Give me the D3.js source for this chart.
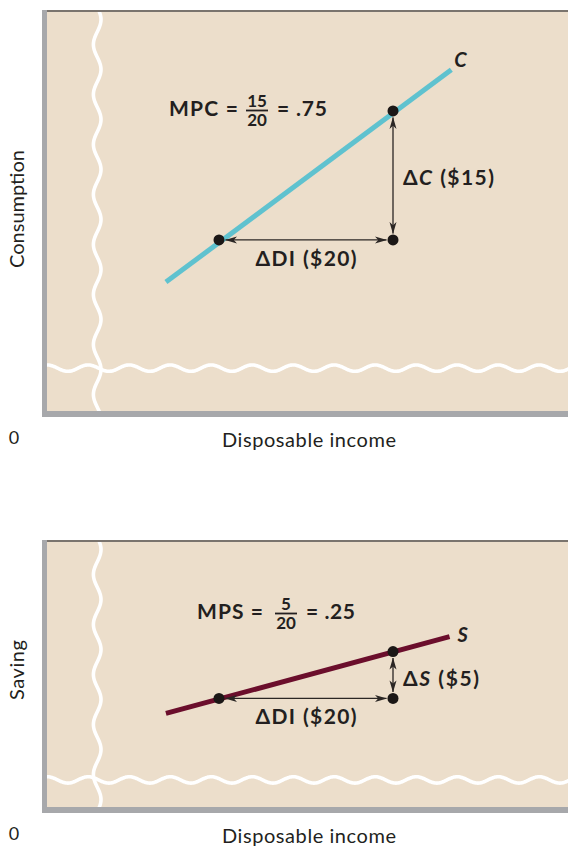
<!DOCTYPE html>
<html><head><meta charset="utf-8">
<script src="https://cdn.jsdelivr.net/npm/d3@7"></script>
<style>
html,body{margin:0;padding:0;background:#fff;}
svg{display:block;}
text{font-family:Lato,"Open Sans",sans-serif;fill:#231f20;}
</style></head>
<body>
<script>
// ---- data ----
const zeroLabel = "0";
const xTitle = "Disposable income";
const breakDI = 6;            // position of the vertical axis-break squiggle (DI units)
// Consumption panel
const cLineDI = [13.9, 46.7];
const cLineC  = [15.1, 39.8];
const cPointsDI = [20, 40];
const cPointsC  = [20, 35];
const breakC = 5.1;
// Saving panel
const sLineDI = [13.9, 46.5];
const sLineS  = [10.1, 18.3];
const sPointsDI = [20, 40];
const sPointsS  = [11.7, 16.7];
const breakS = 3.0;

const W = 568, H = 849;
const svg = d3.select("body").append("svg").attr("width", W).attr("height", H);

const defs = svg.append("defs");
defs.append("marker").attr("id","arr").attr("viewBox","0 0 12 8")
  .attr("refX",11.5).attr("refY",4).attr("markerWidth",12).attr("markerHeight",8)
  .attr("markerUnits","userSpaceOnUse").attr("orient","auto-start-reverse")
  .append("path").attr("d","M0,0.5 L12,4 L0,7.5 L3.2,4 Z").attr("fill","#2b2624");

const x = d3.scaleLinear().domain([0, 60]).range([45, 567]);

function panel(cfg){
  const g = svg.append("g");
  const y = d3.scaleLinear().domain([0, cfg.yMax]).range([cfg.bottom, cfg.top]);
  const id = "clip" + cfg.top;
  defs.append("clipPath").attr("id", id).append("rect")
    .attr("x", 47).attr("y", cfg.top).attr("width", W-47).attr("height", cfg.bottom - cfg.top);
  g.append("rect").attr("x",45).attr("y",cfg.top).attr("width",W-45).attr("height",cfg.bottom-cfg.top)
    .attr("fill","#ecdecb");
  // squiggles
  const wg = g.append("g").attr("clip-path", `url(#${id})`);
  const bx = x(breakDI), by = y(cfg.breakY);
  const vPts = d3.range(cfg.top-2, cfg.bottom+2, 1).map(t => [bx + 3.8*Math.sin(2*Math.PI*(t-cfg.top+5)/50), t]);
  const hPts = d3.range(44, W+2, 1).map(t => [t, by - 3.2*Math.sin(2*Math.PI*(t-45+8)/41)]);
  const ln = d3.line().curve(d3.curveBasis);
  wg.append("path").attr("d", ln(hPts)).attr("fill","none").attr("stroke","#fff").attr("stroke-width",3.6);
  wg.append("path").attr("d", ln(vPts)).attr("fill","none").attr("stroke","#fff").attr("stroke-width",3.6);
  // frame
  g.append("line").attr("x1",42).attr("x2",W).attr("y1",cfg.top-1).attr("y2",cfg.top-1)
    .attr("stroke","#7a746e").attr("stroke-width",2);
  g.append("rect").attr("x",42).attr("y",cfg.top-2).attr("width",5).attr("height",cfg.bottom-cfg.top+7).attr("fill","#a7a8ab");
  g.append("rect").attr("x",42).attr("y",cfg.bottom-1).attr("width",W-42).attr("height",6).attr("fill","#a7a8ab");
  // the line
  g.append("path").datum(d3.zip(cfg.lineX, cfg.lineY))
    .attr("d", d3.line().x(d=>x(d[0])).y(d=>y(d[1])))
    .attr("stroke", cfg.color).attr("stroke-width", 5).attr("fill","none");
  const A = [x(cfg.ptX[0]), y(cfg.ptY[0])], B = [x(cfg.ptX[1]), y(cfg.ptY[1])], K = [B[0], A[1]];
  const r = 5.5;
  // arrows
  g.append("line").attr("x1",K[0]-r-1).attr("y1",K[1]).attr("x2",A[0]+r+1).attr("y2",A[1])
    .attr("stroke","#2b2624").attr("stroke-width",1.3)
    .attr("marker-start","url(#arr)").attr("marker-end","url(#arr)");
  g.append("line").attr("x1",K[0]).attr("y1",K[1]-r-1).attr("x2",B[0]).attr("y2",B[1]+r+1)
    .attr("stroke","#2b2624").attr("stroke-width",1.3)
    .attr("marker-start","url(#arr)").attr("marker-end","url(#arr)");
  // points
  g.selectAll("circle.pt").data([A,B,K]).enter().append("circle")
    .attr("cx",d=>d[0]).attr("cy",d=>d[1]).attr("r",r).attr("fill","#1b1716");
  // labels
  const bold = (sel) => sel.attr("font-weight",700);
  const end = [x(cfg.lineX[1]), y(cfg.lineY[1])];
  bold(g.append("text")).attr("x", end[0]+cfg.nameDx).attr("y", end[1]+cfg.nameDy)
    .attr("font-style","italic").attr("font-size",20).text(cfg.name);
  const dv = bold(g.append("text")).attr("x", K[0]+10).attr("y", (K[1]+B[1])/2 + cfg.dvDy)
    .attr("font-size",21).attr("textLength", cfg.dvLen).attr("lengthAdjust","spacing");
  dv.append("tspan").text("Δ");
  dv.append("tspan").attr("font-style","italic").text(cfg.name);
  dv.append("tspan").text(" (" + cfg.dvText + ")");
  bold(g.append("text")).attr("x", (A[0]+K[0])/2).attr("y", A[1]+26).attr("text-anchor","middle")
    .attr("font-size",21).attr("textLength",101).attr("lengthAdjust","spacing").text("ΔDI ($20)");
  // equation
  const e = cfg.eq;
  bold(g.append("text")).attr("x", e.x).attr("y", e.y).attr("font-size",21)
    .attr("textLength", e.len1).attr("lengthAdjust","spacing").text(e.lhs + " =");
  bold(g.append("text")).attr("x", e.fx).attr("y", e.y-9).attr("text-anchor","middle").attr("font-size",17).text(e.num);
  g.append("line").attr("x1", e.fx-11).attr("x2", e.fx+11).attr("y1", e.y-5.5).attr("y2", e.y-5.5)
    .attr("stroke","#231f20").attr("stroke-width",1.8);
  bold(g.append("text")).attr("x", e.fx).attr("y", e.y+10).attr("text-anchor","middle").attr("font-size",17).text(e.den);
  bold(g.append("text")).attr("x", e.fx+20).attr("y", e.y).attr("font-size",21)
    .attr("textLength", e.len2).attr("lengthAdjust","spacing").text("= " + e.res);
  // axis texts
  svg.append("text").attr("x",14).attr("y",cfg.bottom+32).attr("text-anchor","middle").attr("font-size",18).text(zeroLabel);
  svg.append("text").attr("x",309).attr("y",cfg.bottom+35).attr("text-anchor","middle").attr("font-size",20)
    .attr("textLength",174).attr("lengthAdjust","spacing").text(xTitle);
  svg.append("text").attr("transform",`translate(24,${cfg.yLabelY}) rotate(-90)`).attr("text-anchor","middle")
    .attr("font-size",20).attr("textLength",cfg.yLabelLen).attr("lengthAdjust","spacing").text(cfg.yLabel);
}

panel({top:12, bottom:412, yMax:46.5, breakY:breakC, lineX:cLineDI, lineY:cLineC, ptX:cPointsDI, ptY:cPointsC,
  color:"#5fc2cf", name:"C", nameDx:3, nameDy:-3, dvText:"$15", dvDy:10, dvLen:91,
  eq:{x:169, y:116, lhs:"MPC", len1:69, fx:257, num:"15", den:"20", res:".75", len2:50},
  yLabel:"Consumption", yLabelY:209, yLabelLen:118});

panel({top:542, bottom:808, yMax:28.4, breakY:breakS, lineX:sLineDI, lineY:sLineS, ptX:sPointsDI, ptY:sPointsS,
  color:"#6b0e2c", name:"S", nameDx:8, nameDy:5, dvText:"$5", dvDy:11, dvLen:76,
  eq:{x:197, y:619, lhs:"MPS", len1:66, fx:286, num:"5", den:"20", res:".25", len2:49},
  yLabel:"Saving", yLabelY:670, yLabelLen:60});
</script>
</body></html>
